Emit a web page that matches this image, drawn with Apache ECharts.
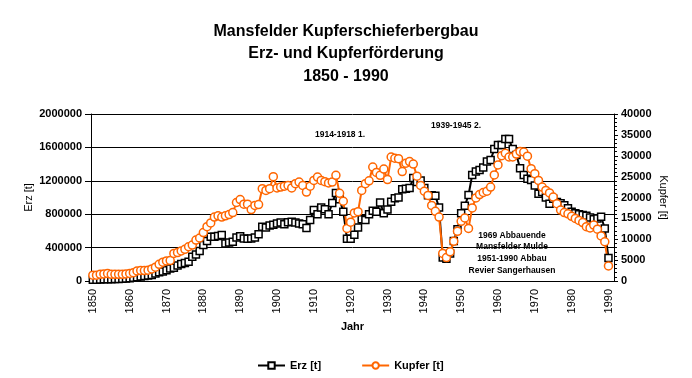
<!DOCTYPE html>
<html><head><meta charset="utf-8">
<script src="https://cdn.jsdelivr.net/npm/echarts@6/dist/echarts.min.js"></script>
<style>html,body{margin:0;padding:0;background:#fff}#c{width:692px;height:378px}</style>
</head><body><div id="c"></div>
<script>
// categories: years (1991 is an empty slot at the axis end, as in the original)
const years = [];
for (let y = 1850; y <= 1991; y++) years.push(String(y));

// Erz [t], 1850..1990
const erz = [
 15000,15000,18000,20000,22000,22000,25000,25000,28000,30000,
 32000,38000,45000,55000,60000,65000,72000,90000,105000,115000,
 130000,150000,160000,185000,205000,215000,230000,290000,318000,358000,
 430000,480000,530000,530000,540000,550000,450000,460000,470000,520000,
 535000,510000,505000,510000,520000,560000,650000,640000,665000,675000,
 690000,700000,680000,705000,710000,700000,690000,680000,635000,730000,
 850000,800000,880000,860000,800000,935000,1055000,980000,830000,505000,
 505000,555000,640000,740000,730000,800000,840000,830000,940000,810000,
 855000,950000,990000,1000000,1100000,1105000,1113000,1233000,1185000,1205000,
 1113000,1026000,1026000,1020000,880000,280000,265000,330000,480000,620000,
 810000,900000,1030000,1270000,1310000,1330000,1360000,1430000,1450000,1580000,
 1630000,1630000,1700000,1700000,1580000,1510000,1350000,1270000,1225000,1210000,
 1145000,1046000,1066000,1000000,926000,986000,946000,930000,906000,870000,
 830000,810000,800000,790000,780000,760000,740000,750000,770000,630000,275000
];
// Kupfer [t], 1850..1990
const kupfer = [
 1400,1400,1600,1700,1800,1600,1600,1600,1600,1700,
 1800,2000,2400,2500,2500,2600,2900,3300,4000,4500,
 4800,4900,6600,6800,7200,7600,8200,8600,9800,10300,
 11600,13000,13900,15300,15600,15300,15600,15900,16400,18800,
 19500,18400,18400,17100,18100,18300,22100,21700,22100,25000,
 22300,22500,22700,22900,22300,23300,23700,22900,21300,22700,
 24100,24900,24100,23800,23500,23700,25300,21000,19100,12600,
 14100,16300,16600,21700,23300,24000,27300,26000,25300,26800,
 24300,29700,29400,29300,26200,28200,28600,28000,25100,22900,
 21500,20500,18100,16700,15300,6600,5600,7000,9500,11900,
 14300,15100,12600,17500,19900,20700,21200,21500,22500,25400,
 27800,30000,30600,29700,29700,30400,31000,30900,29900,26900,
 25700,24100,22500,21700,21100,20100,18500,17000,16400,16100,
 15500,15000,14500,14000,13000,12700,13400,12400,10800,9400,3600
];
const erzTicks = [0, 400000, 800000, 1200000, 1600000, 2000000];
const kupferTicks = [0, 5000, 10000, 15000, 20000, 25000, 30000, 35000, 40000];
const titleLines = ['Mansfelder Kupferschieferbergbau', 'Erz- und Kupferförderung', '1850 - 1990'];
const notes = ['1914-1918 1.', '1939-1945 2.', '1969 Abbauende', 'Mansfelder Mulde', '1951-1990 Abbau', 'Revier Sangerhausen'];

const F = '"Liberation Sans", Arial, sans-serif';
const chart = echarts.init(document.getElementById('c'), null, {renderer: 'canvas'});
const noteFont = 'bold 8.5px ' + F;
const plain = v => String(v);
const option = {
  animation: false,
  backgroundColor: '#fff',
  title: {
    text: titleLines.join('\n'), left: 'center', top: 15,
    textStyle: {fontFamily: F, fontWeight: 'bold', fontSize: 16, lineHeight: 22.5, color: '#000'}
  },
  legend: {
    left: 252, top: 355, itemWidth: 27, itemHeight: 8, itemGap: 40,
    textStyle: {fontFamily: F, fontWeight: 'bold', fontSize: 11, color: '#000'},
    data: ['Erz [t]', 'Kupfer [t]']
  },
  grid: {left: 91, right: 78, top: 114, bottom: 97},
  xAxis: {
    type: 'category', data: years, boundaryGap: true,
    name: 'Jahr', nameLocation: 'middle', nameGap: 40, nameMoveOverlap: false,
    nameTextStyle: {fontFamily: F, fontWeight: 'bold', fontSize: 11, color: '#000'},
    axisLine: {lineStyle: {color: '#000', width: 1}},
    axisTick: {interval: 0, length: 3, lineStyle: {color: '#000'}},
    axisLabel: {interval: 9, rotate: 90, margin: 8, fontFamily: F, fontSize: 11, color: '#000'},
    splitLine: {show: false}
  },
  yAxis: [{
    type: 'value', min: erzTicks[0], max: erzTicks[erzTicks.length - 1], interval: erzTicks[1] - erzTicks[0],
    name: 'Erz [t]', nameLocation: 'middle', nameGap: 57, nameMoveOverlap: false,
    nameTextStyle: {fontFamily: F, fontSize: 11, color: '#000'},
    axisLine: {show: true, lineStyle: {color: '#000', width: 1}},
    axisTick: {show: true, length: 6, lineStyle: {color: '#000'}},
    axisLabel: {fontFamily: F, fontWeight: 'bold', fontSize: 11, color: '#000', margin: 9, formatter: plain},
    splitLine: {show: true, lineStyle: {color: '#000', width: 1}}
  }, {
    type: 'value', position: 'right', min: kupferTicks[0], max: kupferTicks[kupferTicks.length - 1], interval: kupferTicks[1] - kupferTicks[0],
    name: 'Kupfer [t]', nameLocation: 'middle', nameRotate: -90, nameGap: 44, nameMoveOverlap: false,
    nameTextStyle: {fontFamily: F, fontSize: 11, color: '#000'},
    axisLine: {show: true, lineStyle: {color: '#000', width: 1}},
    axisTick: {show: true, length: 4, lineStyle: {color: '#000'}},
    minorTick: {show: true, splitNumber: 5, length: 3, lineStyle: {color: '#000'}},
    axisLabel: {fontFamily: F, fontWeight: 'bold', fontSize: 11, color: '#000', margin: 7, formatter: plain},
    splitLine: {show: false}
  }],
  series: [{
    name: 'Erz [t]', type: 'line', yAxisIndex: 0, data: erz,
    symbol: 'rect', symbolSize: 7, showAllSymbol: true,
    lineStyle: {color: '#000', width: 2},
    itemStyle: {color: '#fff', borderColor: '#000', borderWidth: 1.5}
  }, {
    name: 'Kupfer [t]', type: 'line', yAxisIndex: 1, data: kupfer,
    symbol: 'circle', symbolSize: 8, showAllSymbol: true,
    lineStyle: {color: '#FF6600', width: 2},
    itemStyle: {color: '#fff', borderColor: '#FF6600', borderWidth: 1.5}
  }],
  graphic: [
    {type: 'text', x: 340, y: 135, style: {text: notes[0], font: noteFont, fill: '#000', align: 'center', verticalAlign: 'middle'}},
    {type: 'text', x: 456, y: 126, style: {text: notes[1], font: noteFont, fill: '#000', align: 'center', verticalAlign: 'middle'}},
    {type: 'text', x: 512, y: 236, style: {text: notes[2], font: noteFont, fill: '#000', align: 'center', verticalAlign: 'middle'}},
    {type: 'text', x: 512, y: 247, style: {text: notes[3], font: noteFont, fill: '#000', align: 'center', verticalAlign: 'middle'}},
    {type: 'text', x: 512, y: 259, style: {text: notes[4], font: noteFont, fill: '#000', align: 'center', verticalAlign: 'middle'}},
    {type: 'text', x: 512, y: 271, style: {text: notes[5], font: noteFont, fill: '#000', align: 'center', verticalAlign: 'middle'}}
  ]
};
chart.setOption(option);
</script>
</body></html>
